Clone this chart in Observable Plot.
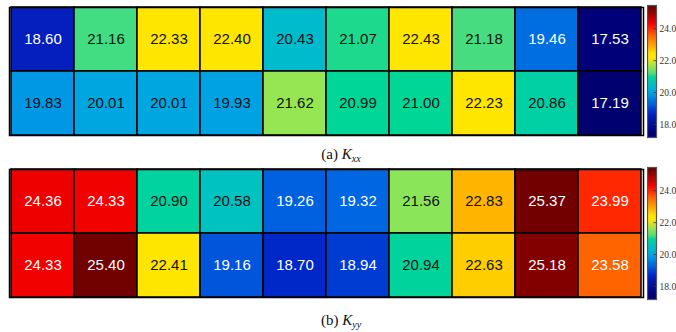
<!DOCTYPE html>
<html>
<head>
<meta charset="utf-8">
<script src="https://cdn.jsdelivr.net/npm/d3@7"></script>
<script src="https://cdn.jsdelivr.net/npm/@observablehq/plot@0.6"></script>
<style>
  body { margin: 0; background: #fff; }
  #fig { position: relative; width: 676px; height: 332px; background: #fff; overflow: hidden; }
  #fig > div { position: absolute; }
  .cap { left: 0; width: 682px; text-align: center; font-family: "Liberation Serif", "DejaVu Serif", serif; font-size: 15px; color: #111; line-height: 18px; }
  .cap sub { font-size: 10px; font-style: italic; vertical-align: -3px; }
</style>
</head>
<body>
<div id="fig"></div>
<script>
// Permeability components on a 2 x 10 grid
const columns = [0, 1, 2, 3, 4, 5, 6, 7, 8, 9];
const rows = [0, 1];
const kxxRow1 = [18.60, 21.16, 22.33, 22.40, 20.43, 21.07, 22.43, 21.18, 19.46, 17.53];
const kxxRow2 = [19.83, 20.01, 20.01, 19.93, 21.62, 20.99, 21.00, 22.23, 20.86, 17.19];
const kyyRow1 = [24.36, 24.33, 20.90, 20.58, 19.26, 19.32, 21.56, 22.83, 25.37, 23.99];
const kyyRow2 = [24.33, 25.40, 22.41, 19.16, 18.70, 18.94, 20.94, 22.63, 25.18, 23.58];
const colorbarTicks = [18, 20, 22, 24];
const colorbarRange = [17.19, 25.45];

// Rainbow colormap stops
const cmapStops = [17.19, 17.53, 18.60, 18.70, 18.94, 19.29, 19.46, 19.90, 20.50, 21.00, 21.17, 21.60, 22.20, 22.45, 22.75, 23.58, 23.99, 24.35, 25.30, 25.45];
const cmapColors = ["#00006e", "#000078", "#051ebe", "#0028c8", "#003cd2", "#0064e1", "#006ee1", "#00a0e6", "#00bec8", "#00d796", "#46dc82", "#91e655", "#ffe600", "#ffe600", "#ffbe00", "#ff6400", "#ff2800", "#f00000", "#730000", "#700000"];
const colorScale = {type: "linear", domain: cmapStops, range: cmapColors, interpolate: "rgb"};

const panels = [
  {rowsData: [kxxRow1, kxxRow2], top: 0, label: "(a) ", sub: "xx", capTop: 145},
  {rowsData: [kyyRow1, kyyRow2], top: 162, label: "(b) ", sub: "yy", capTop: 311}
];

const fig = document.getElementById("fig");

for (const p of panels) {
  const cells = [];
  p.rowsData.forEach((vals, r) => vals.forEach((v, c) => cells.push({row: r, col: c, value: v})));

  const heat = Plot.plot({
    width: 676,
    height: 142,
    marginLeft: 9,
    marginRight: 33,
    marginTop: 7,
    marginBottom: 7,
    x: {type: "band", domain: columns, padding: 0, axis: null},
    y: {type: "band", domain: rows, padding: 0, axis: null},
    color: colorScale,
    style: {fontFamily: "'Liberation Sans', Arial, sans-serif", background: "transparent"},
    marks: [
      Plot.cell(cells, {x: "col", y: "row", fill: "value", stroke: "#000", strokeWidth: 1.5}),
      Plot.text(cells, {
        x: "col", y: "row", text: d => d.value.toFixed(2),
        fill: d => (d.value < 19.5 || d.value > 23.3) ? "#fff" : "#111",
        fontSize: 15
      }),
      Plot.frame({stroke: "#000", strokeWidth: 1.5})
    ]
  });
  const hd = document.createElement("div");
  hd.style.left = "0px";
  hd.style.top = p.top + "px";
  hd.appendChild(heat);
  fig.appendChild(hd);

  const bar = Plot.plot({
    width: 29,
    height: 142,
    marginLeft: 0,
    marginRight: 20,
    marginTop: 5,
    marginBottom: 5,
    x: {domain: [0, 1], axis: null},
    y: {domain: colorbarRange, axis: null},
    color: colorScale,
    style: {background: "transparent"},
    marks: [
      Plot.raster({x1: 0, x2: 1, y1: colorbarRange[0], y2: colorbarRange[1], fill: (x, y) => y, pixelSize: 1}),
      Plot.ruleY(colorbarTicks, {x1: 0.72, x2: 1, stroke: "#333", strokeWidth: 0.8}),
      Plot.frame({stroke: "#555", strokeWidth: 1.2}),
      Plot.axisY(colorbarTicks, {
        anchor: "right", tickSize: 0, tickPadding: 3,
        tickFormat: d => d.toFixed(1),
        fontSize: 9.5, fontFamily: "'Liberation Serif', serif", fill: "#333"
      })
    ]
  });
  const bd = document.createElement("div");
  bd.style.left = "647px";
  bd.style.top = p.top + "px";
  bd.appendChild(bar);
  fig.appendChild(bd);

  const cap = document.createElement("div");
  cap.className = "cap";
  cap.style.top = p.capTop + "px";
  cap.innerHTML = p.label + "<i>K</i><sub>" + p.sub + "</sub>";
  fig.appendChild(cap);
}
</script>
</body>
</html>
